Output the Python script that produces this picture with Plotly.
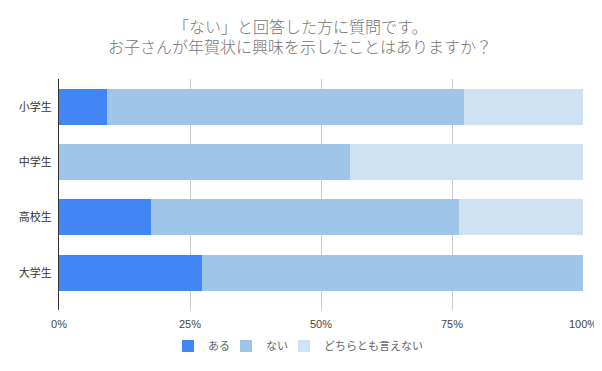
import plotly.graph_objects as go

categories = ["小学生", "中学生", "高校生", "大学生"]
aru = [9.1, 0.0, 17.6, 27.3]
nai = [68.2, 55.6, 58.8, 72.7]
dochira = [22.7, 44.4, 23.6, 0.0]
series_names = ["ある", "ない", "どちらとも言えない"]
colors = ["#4285F4", "#9FC5E8", "#CFE2F3"]
tick_vals = [0, 25, 50, 75, 100]
tick_text = ["0%", "25%", "50%", "75%", "100%"]
title_lines = ["「ない」と回答した方に質問です。", "お子さんが年賀状に興味を示したことはありますか？"]

FONT = "Liberation Sans, Noto Sans CJK JP"

# page body has an 8px margin, so the figure sits at (8, 8)
OFF = 8
W, H = 602 - OFF, 371 - OFF
L = 59 - OFF
R = W - (583 - OFF)
T = 79 - OFF
B = H - (310 - OFF)
plot_h = H - T - B
plot_w = W - L - R


def py(px):
    # page pixel y -> plot-area paper fraction
    return (H - B - (px - OFF)) / plot_h


def pxx(px):
    # page pixel x -> plot-area paper fraction
    return (px - OFF - L) / plot_w


legend_ids = ["legend", "legend2", "legend3"]
legend_left_px = [168, 226, 284]

fig = go.Figure()
for name, vals, col, lid in zip(series_names, [aru, nai, dochira], colors, legend_ids):
    fig.add_trace(go.Bar(
        y=categories, x=vals, name=name, orientation="h",
        marker=dict(color=col, line=dict(width=0)),
        hoverinfo="x+name", legend=lid,
    ))

for i, line in enumerate(title_lines):
    fig.add_annotation(text=line, xref="paper", yref="paper",
                       x=pxx(300), y=py(27 + 20 * i),
                       xanchor="center", yanchor="middle", showarrow=False,
                       font=dict(family=FONT, size=16, color="#757575", weight=300))

legend_layout = {}
for lid, lx in zip(legend_ids, legend_left_px):
    legend_layout[lid] = dict(orientation="h", x=pxx(lx), xanchor="left",
                              y=py(346), yanchor="middle",
                              bgcolor="rgba(0,0,0,0)",
                              font=dict(size=11, color="#666666"))

fig.update_layout(
    barmode="stack",
    bargap=0.35,
    width=W, height=H,
    margin=dict(l=L, r=R, t=T, b=B, autoexpand=False),
    paper_bgcolor="white", plot_bgcolor="white",
    font=dict(family=FONT, color="#444444", size=11),
    xaxis=dict(range=[0, 100], tickvals=tick_vals, ticktext=tick_text,
               showgrid=True, gridcolor="#CCCCCC", gridwidth=1,
               zeroline=False, showline=False, ticks="", automargin=False,
               ticklabelstandoff=6,
               tickfont=dict(size=11, color="#444444")),
    yaxis=dict(categoryorder="array", categoryarray=categories,
               range=[3.67, -0.5], showgrid=False, zeroline=False,
               showline=True, linecolor="#333333", linewidth=1, ticks="",
               automargin=False, ticklabelstandoff=4,
               tickfont=dict(size=11, color="#333333")),
    showlegend=True,
    **legend_layout,
)

fig.write_html("out.html")
